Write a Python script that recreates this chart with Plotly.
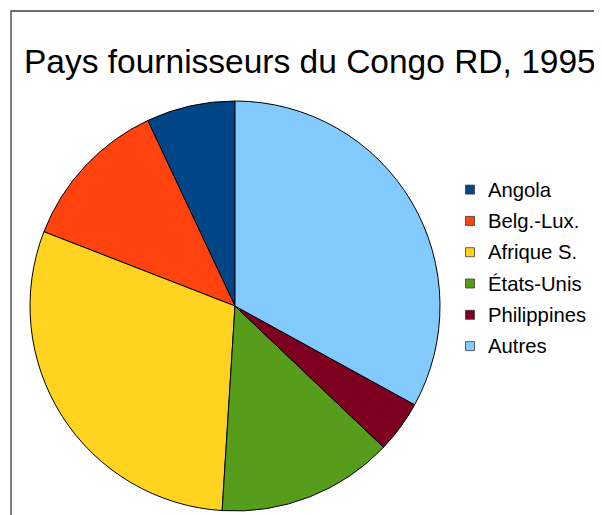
import plotly.graph_objects as go

labels = ["Angola", "Belg.-Lux.", "Afrique S.", "États-Unis", "Philippines", "Autres"]
values = [7.0, 12.1, 29.9, 13.9, 4.1, 33.0]
colors = ["#004586", "#ff420e", "#ffd320", "#579d1c", "#7e0021", "#83caff"]
title_text = "Pays fournisseurs du Congo RD, 1995"

# page is 602x515; browser body has an 8px margin, so the canvas is offset by 8px
OFF = 8
W, H = 602 - OFF, 515 - OFF
FONT = "Liberation Sans, Arial, sans-serif"

def px(x):
    return (x - OFF) / W

def py(y):
    return 1 - (y - OFF) / H

# counterclockwise pies in plotly end their first slice at the rotation angle,
# so turn back by the first slice so that it starts at 12 o'clock
first_angle = 360.0 * values[0] / sum(values)

fig = go.Figure()
fig.add_trace(go.Pie(
    labels=labels,
    values=values,
    sort=False,
    direction="counterclockwise",
    rotation=-first_angle,
    marker=dict(colors=colors, line=dict(color="#000000", width=1)),
    textinfo="none",
    hoverinfo="label+percent",
    showlegend=False,
    domain=dict(x=[px(30), px(440)], y=[py(511), py(101)]),
))

shapes = [dict(type="rect", xref="paper", yref="paper",
               x0=px(11), x1=px(615), y0=py(530), y1=py(11),
               line=dict(color="#3c3c3c", width=1.3), fillcolor="rgba(0,0,0,0)", layer="below")]
annotations = [dict(text=title_text, xref="paper", yref="paper", x=px(310), y=py(62),
                    xanchor="center", yanchor="middle", showarrow=False,
                    font=dict(family=FONT, size=33.5, color="#000000"))]

for i, (lab, col) in enumerate(zip(labels, colors)):
    cy = 189.6 + 31.3 * i
    shapes.append(dict(type="rect", xref="paper", yref="paper",
                       x0=px(465.5), x1=px(474.5), y0=py(cy + 4.5), y1=py(cy - 4.5),
                       fillcolor=col, line=dict(color="#3c3c3c", width=0.8)))
    annotations.append(dict(text=lab, xref="paper", yref="paper", x=px(485.5), y=py(cy),
                            xanchor="left", yanchor="middle", showarrow=False,
                            font=dict(family=FONT, size=20.3, color="#000000")))

fig.update_layout(
    width=W, height=H,
    margin=dict(l=0, r=0, t=0, b=0),
    paper_bgcolor="#ffffff",
    plot_bgcolor="#ffffff",
    shapes=shapes,
    annotations=annotations,
    showlegend=False,
)

fig.write_html("out.html")
